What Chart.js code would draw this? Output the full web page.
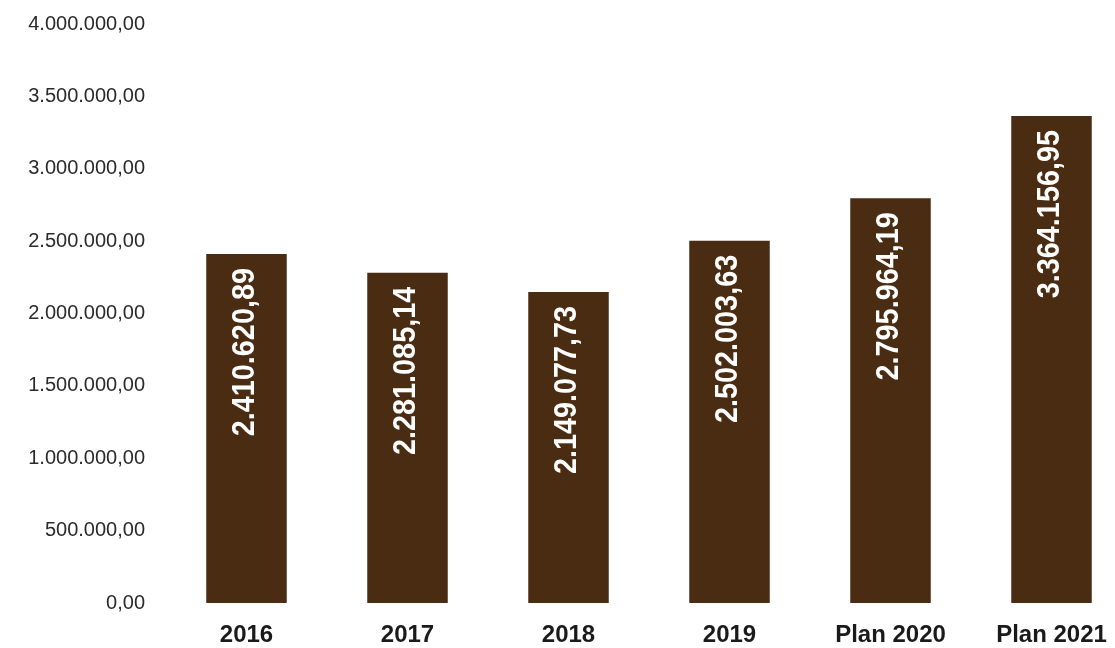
<!DOCTYPE html>
<html>
<head>
<meta charset="utf-8">
<script src="https://cdn.jsdelivr.net/npm/chart.js@4.4.1/dist/chart.umd.min.js"></script>
<style>
    html, body { margin: 0; padding: 0; background: #ffffff; overflow: hidden; }
    #wrap { position: relative; width: 1140px; height: 648px; }
</style>
</head>
<body>
<div id="wrap"><canvas id="chart"></canvas></div>
<script>
// Data
const categories = ['2016', '2017', '2018', '2019', 'Plan 2020', 'Plan 2021'];
const amounts = [2410620.89, 2281085.14, 2149077.73, 2502003.63, 2795964.19, 3364156.95];
const yTicks = [0, 500000, 1000000, 1500000, 2000000, 2500000, 3000000, 3500000, 4000000];

const FONT = '"Liberation Sans", Arial, sans-serif';
const BAR_COLOR = '#4a2c13';

// 1234567.8 -> "1.234.567,80"
function formatEU(v) {
    const parts = v.toFixed(2).split('.');
    const intPart = parts[0].replace(/\B(?=(\d{3})+(?!\d))/g, '.');
    return intPart + ',' + parts[1];
}

// White rotated value labels inside the bars
const barLabels = {
    id: 'barLabels',
    afterDatasetsDraw(chart) {
        const ctx = chart.ctx;
        const meta = chart.getDatasetMeta(0);
        meta.data.forEach((bar, i) => {
            ctx.save();
            ctx.translate(bar.x - 1, bar.y + 14);
            ctx.rotate(-Math.PI / 2);
            ctx.scale(0.9, 1);
            ctx.font = 'bold 32px ' + FONT;
            ctx.fillStyle = '#ffffff';
            ctx.textAlign = 'right';
            ctx.textBaseline = 'middle';
            ctx.fillText(formatEU(amounts[i]), 0, 0);
            ctx.restore();
        });
    }
};

new Chart(document.getElementById('chart'), {
    type: 'bar',
    data: {
        labels: categories,
        datasets: [{
            data: amounts,
            backgroundColor: BAR_COLOR,
            borderWidth: 0,
            barPercentage: 0.5,
            categoryPercentage: 1.0
        }]
    },
    options: {
        responsive: true,
        maintainAspectRatio: false,
        animation: false,
        layout: { padding: { top: 24, right: 8, left: 0, bottom: 0 } },
        plugins: {
            legend: { display: false },
            tooltip: { enabled: false }
        },
        scales: {
            x: {
                grid: { display: false, drawTicks: false },
                border: { display: false },
                ticks: {
                    color: '#1a1a1a',
                    padding: 18,
                    maxRotation: 0,
                    font: { family: FONT, size: 24, weight: 'bold' }
                },
                afterFit(scale) { scale.height = 45; }
            },
            y: {
                min: 0,
                max: 4000000,
                grid: { display: false, drawTicks: false },
                border: { display: false },
                afterBuildTicks(scale) {
                    scale.ticks = yTicks.map(v => ({ value: v }));
                },
                ticks: {
                    color: '#2a2a2a',
                    padding: 21,
                    font: { family: FONT, size: 20 },
                    callback: v => formatEU(v)
                },
                afterFit(scale) {
                    scale.width = 166;
                    scale.paddingTop = 0;
                    scale.paddingBottom = 0;
                }
            }
        }
    },
    plugins: [barLabels]
});
</script>
</body>
</html>
